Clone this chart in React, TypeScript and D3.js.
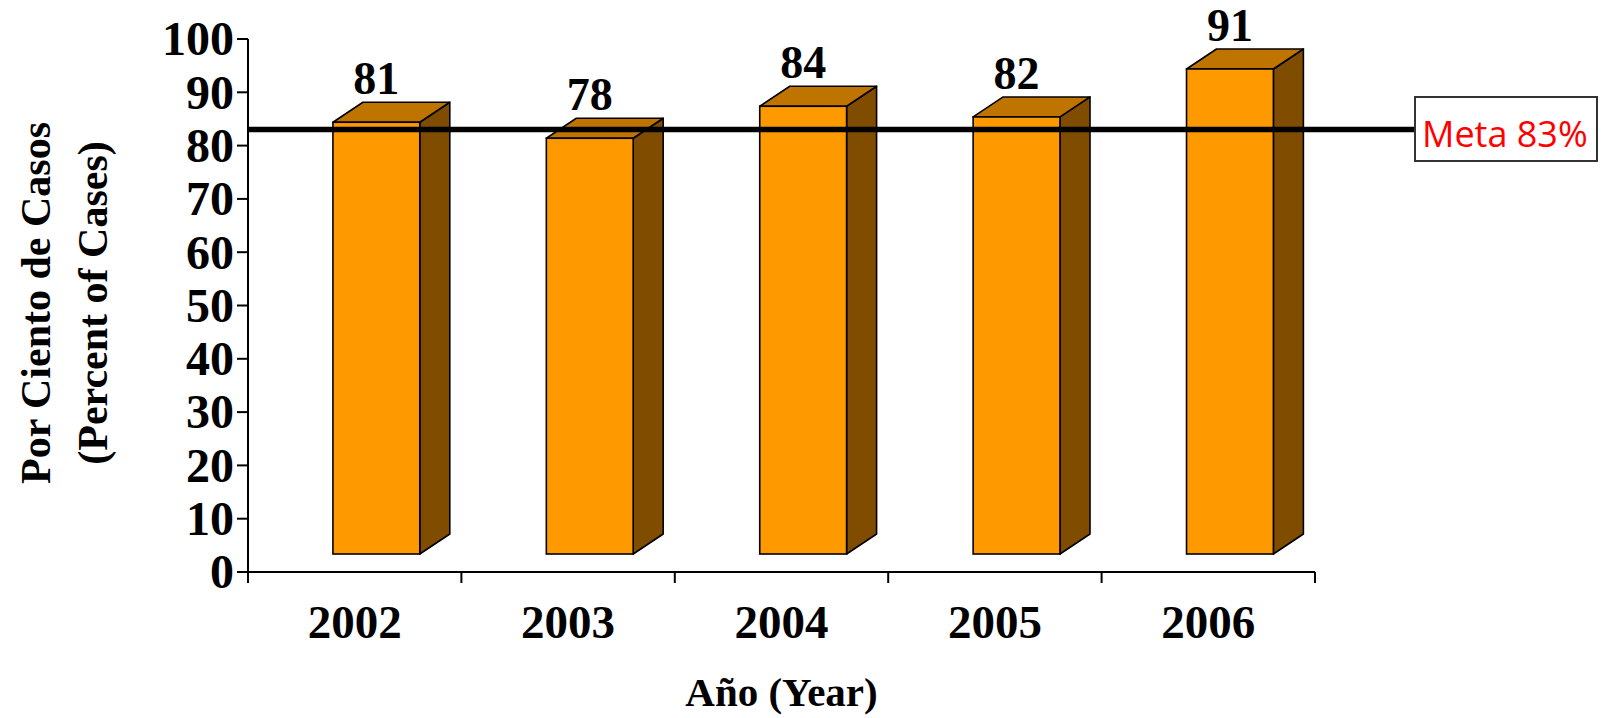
import React from "react";
import * as d3 from "d3";

const years = ["2002", "2003", "2004", "2005", "2006"];
const values = [81, 78, 84, 82, 91];
const yTicks = [0, 10, 20, 30, 40, 50, 60, 70, 80, 90, 100];
const goalValue = 83;
const goalLabel = "Meta 83%";
const yTitle = ["Por Ciento de Casos", "(Percent of Cases)"];
const xTitle = "Año (Year)";

const W = 1603;
const H = 718;
const left = 248;
const right = 1315;
const top = 39;
const bottom = 572;
const depthX = 30;
const depthY = 20;
const floorLift = 18;

const serif = "'Liberation Serif', 'Times New Roman', serif";

export default function App() {
  const x = d3.scaleBand<string>().domain(years).range([left, right]).padding(0);
  const y = d3.scaleLinear().domain([0, 100]).range([bottom, top]);
  const bw = x.bandwidth();
  const faceW = bw * 0.407;
  const faceOff = bw * 0.398;
  const boxX = 1415;
  const boxY = 97;
  const boxW = 182;
  const boxH = 64;

  return (
    <svg width={W} height={H} style={{ position: "absolute", left: 0, top: 0, background: "#fff" }}>
      {/* bars */}
      {years.map((yr, i) => {
        const v = values[i];
        const x0 = (x(yr) as number) + faceOff;
        const x1 = x0 + faceW;
        const yb = y(0) - floorLift;
        const yt = y(v) - floorLift;
        const topPts = [
          [x0, yt],
          [x1, yt],
          [x1 + depthX, yt - depthY],
          [x0 + depthX, yt - depthY],
        ];
        const sidePts = [
          [x1, yt],
          [x1 + depthX, yt - depthY],
          [x1 + depthX, yb - depthY],
          [x1, yb],
        ];
        return (
          <g key={yr}>
            <polygon points={sidePts.map((p) => p.join(",")).join(" ")} fill="#7F4C00" stroke="#000" strokeWidth={1.6} strokeLinejoin="round" />
            <polygon points={topPts.map((p) => p.join(",")).join(" ")} fill="#C07400" stroke="#000" strokeWidth={1.6} strokeLinejoin="round" />
            <rect x={x0} y={yt} width={faceW} height={yb - yt} fill="#FF9900" stroke="#000" strokeWidth={1.6} />
            <text
              x={x0 + faceW / 2}
              y={y(v) - 46}
              textAnchor="middle"
              fontFamily={serif}
              fontWeight="bold"
              fontSize={46}
              fill="#000"
            >
              {v}
            </text>
          </g>
        );
      })}

      {/* y axis */}
      <line x1={left} y1={top} x2={left} y2={bottom} stroke="#000" strokeWidth={2} />
      {yTicks.map((t) => (
        <g key={t}>
          <line x1={left - 11} y1={y(t)} x2={left} y2={y(t)} stroke="#000" strokeWidth={2} />
          <text
            x={left - 14}
            y={y(t)}
            dy="0.34em"
            textAnchor="end"
            fontFamily={serif}
            fontWeight="bold"
            fontSize={48}
            fill="#000"
          >
            {t}
          </text>
        </g>
      ))}

      {/* x axis */}
      <line x1={left} y1={bottom} x2={right} y2={bottom} stroke="#000" strokeWidth={2} />
      {[...years.map((yr) => x(yr) as number), right].map((tx, i) => (
        <line key={i} x1={tx} y1={bottom} x2={tx} y2={bottom + 11} stroke="#000" strokeWidth={2} />
      ))}
      {years.map((yr) => (
        <text
          key={yr}
          x={(x(yr) as number) + bw / 2}
          y={638}
          textAnchor="middle"
          fontFamily={serif}
          fontWeight="bold"
          fontSize={47}
          fill="#000"
        >
          {yr}
        </text>
      ))}

      {/* goal line */}
      <line x1={left} y1={y(goalValue)} x2={boxX} y2={y(goalValue)} stroke="#000" strokeWidth={5.5} />
      <rect x={boxX} y={boxY} width={boxW} height={boxH} fill="#fff" stroke="#333" strokeWidth={2} />
      <text
        x={boxX + 7}
        y={147}
        fontFamily="'Open Sans', 'Noto Sans', sans-serif"
        fontSize={36}
        fill="#FF0000"
      >
        {goalLabel}
      </text>

      {/* axis titles */}
      <text
        transform={`translate(50, 303) rotate(-90)`}
        textAnchor="middle"
        fontFamily={serif}
        fontWeight="bold"
        fontSize={42}
        fill="#000"
      >
        {yTitle[0]}
      </text>
      <text
        transform={`translate(107, 303) rotate(-90)`}
        textAnchor="middle"
        fontFamily={serif}
        fontWeight="bold"
        fontSize={42}
        fill="#000"
      >
        {yTitle[1]}
      </text>
      <text
        x={(left + right) / 2}
        y={706}
        textAnchor="middle"
        fontFamily={serif}
        fontWeight="bold"
        fontSize={41}
        fill="#000"
      >
        {xTitle}
      </text>
    </svg>
  );
}
